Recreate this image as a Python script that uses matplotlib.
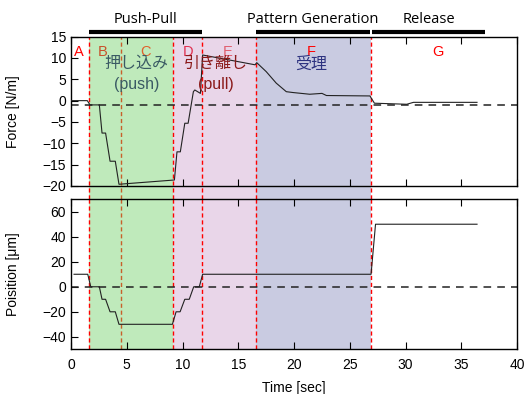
import matplotlib
matplotlib.use("Agg")
import matplotlib.pyplot as plt

plt.rcParams['font.family'] = ['Liberation Sans', 'DejaVu Sans']

# force trace [N/m]
force_t = [0, 1.46, 1.7, 2.54, 2.78, 3.1, 3.5, 3.97, 4.3, 9.27, 9.5, 9.8, 10.2, 10.5,
           10.97, 11.1, 11.6, 11.8, 16.5, 16.65, 17.5, 18.4, 19.3, 19.9, 21.4, 22.5, 22.9,
           26.8, 27.2, 30.1, 30.7, 36.4]
force_v = [0, 0, -1.0, -1.0, -7.6, -7.6, -14.2, -14.2, -19.6, -18.6, -12, -12, -5.3, -5.3,
           2.1, 2.5, 1.7, 10.7, 8.4, 8.9, 6.8, 4.1, 2.1, 1.9, 1.5, 1.7, 1.2,
           1.1, -0.6, -0.85, -0.4, -0.4]

# position trace [um]
pos_t = [0.27, 1.5, 1.77, 2.54, 2.78, 3.1, 3.5, 3.97, 4.3, 9.09, 9.42, 9.78, 10.2, 10.6,
         11.0, 11.5, 11.8, 26.9, 27.3, 36.4]
pos_v = [10, 10, 0, 0, -10, -10, -20, -20, -30, -30, -20, -20, -10, -10,
         0, 0, 10, 10, 50, 50]

phase_edges = [1.6, 4.45, 9.1, 11.7, 16.6, 26.9]
phase_colors = ['red', '#c8602a', 'red', 'red', 'red', 'red']
shade_spans = [(1.6, 9.1, '#bfeabb'), (9.1, 16.6, '#e9d6e9'), (16.6, 26.9, '#c9cbe1')]

phase_letters = ['A', 'B', 'C', 'D', 'E', 'F', 'G']
letter_x = [0.7, 2.8, 6.7, 10.5, 14.0, 21.5, 32.9]
letter_colors = ['red', '#c8502a', '#e0602a', '#e03050', '#e06070', 'red', 'red']

top_labels = ['Push-Pull', 'Pattern Generation', 'Release']
top_spans = [(1.6, 11.7), (16.6, 26.8), (27.0, 37.1)]

fig = plt.figure(figsize=(5.28, 3.94), dpi=100)
ax1 = fig.add_axes([0.1345, 0.528, 0.845, 0.379])
ax2 = fig.add_axes([0.1345, 0.1134, 0.845, 0.381])

gap = 13.0 / 149.3
for x0, x1, c in shade_spans:
    ax1.axvspan(x0, x1, ymin=-gap, ymax=1, color=c, lw=0, clip_on=False, zorder=0)
    ax2.axvspan(x0, x1, color=c, lw=0, zorder=0)
for x, c in zip(phase_edges, phase_colors):
    ax1.axvline(x, ymin=-gap, ymax=1, color=c, ls=(0, (3, 2)), lw=1, clip_on=False, zorder=1)
    ax2.axvline(x, color=c, ls=(0, (3, 2)), lw=1, zorder=1)

ax1.plot(force_t, force_v, color='#222222', lw=0.8, zorder=3)
ax1.axhline(-1.1, color='#222222', ls=(0, (5, 4)), lw=1.1, zorder=2)
ax2.plot(pos_t, pos_v, color='#222222', lw=0.8, zorder=3)
ax2.axhline(0, color='#222222', ls=(0, (5, 4)), lw=1.1, zorder=2)

ax1.set_xlim(0, 40)
ax1.set_ylim(-20, 15)
ax1.set_yticks(range(-20, 16, 5))
ax1.set_xticks(range(0, 41, 5))
ax1.set_xticklabels([])
ax1.set_ylabel('Force [N/m]', fontsize=10)

ax2.set_xlim(0, 40)
ax2.set_ylim(-50, 70)
ax2.set_yticks(range(-40, 61, 20))
ax2.set_xticks(range(0, 41, 5))
ax2.set_ylabel('Poisition [\u03bcm]', fontsize=10)
ax2.set_xlabel('Time [sec]', fontsize=10, labelpad=7)

for ax in (ax1, ax2):
    ax.tick_params(direction='in', top=True, labelsize=10, length=5, width=0.8)
    ax.tick_params(axis='x', pad=6)
    for s in ax.spines.values():
        s.set_linewidth(1.0)
    ax.yaxis.set_label_coords(-0.115, 0.5)

for lab, x, c in zip(phase_letters, letter_x, letter_colors):
    ax1.text(x, 11.5, lab, color=c, fontsize=10.5, ha='center', va='center', zorder=4)

jp = ['Noto Sans CJK JP', 'DejaVu Sans']
ax1.text(5.9, 8.8, '押し込み', family=jp, fontsize=11.5, color='#3a5a64', ha='center', va='center', zorder=4)
ax1.text(5.9, 3.7, '(push)', fontsize=11.5, color='#3a5a64', ha='center', va='center', zorder=4)
ax1.text(13.0, 8.8, '引き離し', family=jp, fontsize=11.5, color='#8b1a1a', ha='center', va='center', zorder=4)
ax1.text(13.0, 3.7, '(pull)', fontsize=11.5, color='#8b1a1a', ha='center', va='center', zorder=4)
ax1.text(21.5, 8.6, '受理', family=jp, fontsize=11.5, color='#2e3380', ha='center', va='center', zorder=4)

for lab, (x0, x1) in zip(top_labels, top_spans):
    ax1.plot([x0, x1], [1.03, 1.03], color='black', lw=3, solid_capstyle='butt',
             transform=ax1.get_xaxis_transform(), clip_on=False)
    ax1.text((x0 + x1) / 2, 1.065, lab, transform=ax1.get_xaxis_transform(),
             family=['Open Sans', 'DejaVu Sans'], fontsize=10.5, ha='center', va='bottom')

fig.savefig('out.png', dpi=100)
